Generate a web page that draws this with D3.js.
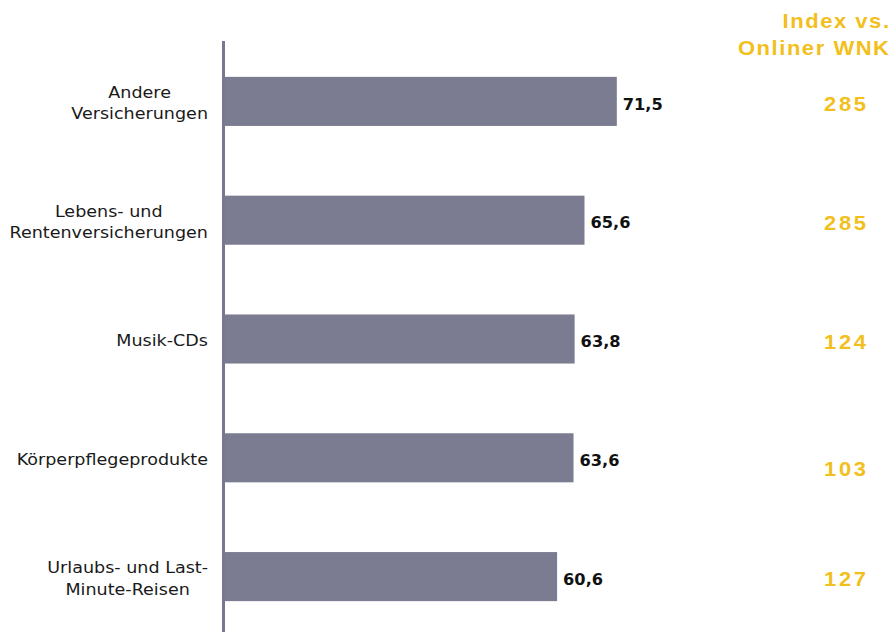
<!DOCTYPE html>
<html>
<head>
<meta charset="utf-8">
<script src="https://cdn.jsdelivr.net/npm/d3@7"></script>
<style>
  html, body { margin: 0; padding: 0; background: #ffffff; }
  svg { display: block; }
</style>
</head>
<body>
<svg id="chart" width="893" height="632"></svg>
<script>
// Product categories (label lines) with share in % and index vs. online users
const categories = [
  ["Andere", "Versicherungen"],
  ["Lebens- und", "Rentenversicherungen"],
  ["Musik-CDs"],
  ["Körperpflegeprodukte"],
  ["Urlaubs- und Last-", "Minute-Reisen"]
];
const shares = [71.5, 65.6, 63.8, 63.6, 60.6];
const indexValues = [285, 285, 124, 103, 127];
const indexHeader = ["Index vs.", "Onliner WNK"];

// vertical nudges for the index column
const indexNudge = [0, 0, 0, 9, 0];

const W = 893, H = 632;
const barColor = "#7b7b91";
const gold = "#f2bf1c";
const stretch = 1.1;    // gold text is drawn slightly widened
const svg = d3.select("#chart");

const x = d3.scaleLinear().domain([0, 100]).range([225, 773]);
const y = d3.scaleBand()
  .domain(d3.range(categories.length))
  .range([42, 636])
  .paddingInner(0.587)
  .paddingOuter(0.2935);

const fmt = v => d3.format(".1f")(v).replace(".", ",");

// bars
svg.append("g").selectAll("rect")
  .data(shares)
  .join("rect")
  .attr("x", x(0))
  .attr("y", (d, i) => y(i))
  .attr("width", d => x(d) - x(0))
  .attr("height", y.bandwidth())
  .attr("fill", barColor);

// vertical axis line
svg.append("line")
  .attr("x1", 223.5).attr("x2", 223.5)
  .attr("y1", 41).attr("y2", H)
  .attr("stroke", "#7a7890")
  .attr("stroke-width", 3);

// value labels at the bar ends
svg.append("g").selectAll("text")
  .data(shares)
  .join("text")
  .attr("transform", (d, i) => `translate(${x(d) + 6},${y(i) + y.bandwidth() / 2 + 3}) scale(1.08,1)`)
  .attr("dy", "0.35em")
  .attr("font-family", "DejaVu Sans, Verdana, sans-serif")
  .attr("font-weight", "bold")
  .attr("font-size", 15)
  .attr("fill", "#111")
  .text(d => fmt(d));

// category labels: block right-aligned, lines centred within the block
const lineH = 21.5;
const labelRight = 208;
const catSx = 1.17;
const catG = svg.append("g")
  .attr("font-family", "DejaVu Sans, Verdana, sans-serif")
  .attr("font-size", 15)
  .attr("fill", "#1a1a1a");
categories.forEach((lines, i) => {
  const cy = y(i) + y.bandwidth() / 2 + 2;
  const g = catG.append("g")
    .attr("transform", `translate(${labelRight},${cy}) scale(${catSx},1)`);
  const texts = lines.map((t, k) => g.append("text")
    .attr("y", (k - (lines.length - 1) / 2) * lineH)
    .attr("dy", "0.35em")
    .attr("text-anchor", "middle")
    .text(t));
  const maxW = d3.max(texts, t => t.node().getComputedTextLength());
  texts.forEach(t => t.attr("x", -maxW / 2));
});

// index column header
const headSp = 1.4;
svg.append("g").selectAll("text")
  .data(indexHeader)
  .join("text")
  .attr("transform", (d, i) => `translate(${889 + headSp * stretch},${21 + i * 27}) scale(${stretch},1)`)
  .attr("dy", "0.35em")
  .attr("text-anchor", "end")
  .attr("letter-spacing", headSp)
  .attr("font-family", "Liberation Sans, Arial, sans-serif")
  .attr("font-weight", "bold")
  .attr("font-size", 20)
  .attr("fill", gold)
  .text(d => d);

// index values
const numSp = 2.4;
svg.append("g").selectAll("text")
  .data(indexValues)
  .join("text")
  .attr("transform", (d, i) => `translate(${845 + numSp * stretch / 2},${y(i) + y.bandwidth() / 2 + 2.5 + indexNudge[i]}) scale(${stretch},1)`)
  .attr("dy", "0.35em")
  .attr("text-anchor", "middle")
  .attr("letter-spacing", numSp)
  .attr("font-family", "Liberation Sans, Arial, sans-serif")
  .attr("font-weight", "bold")
  .attr("font-size", 20)
  .attr("fill", gold)
  .text(d => d);
</script>
</body>
</html>
